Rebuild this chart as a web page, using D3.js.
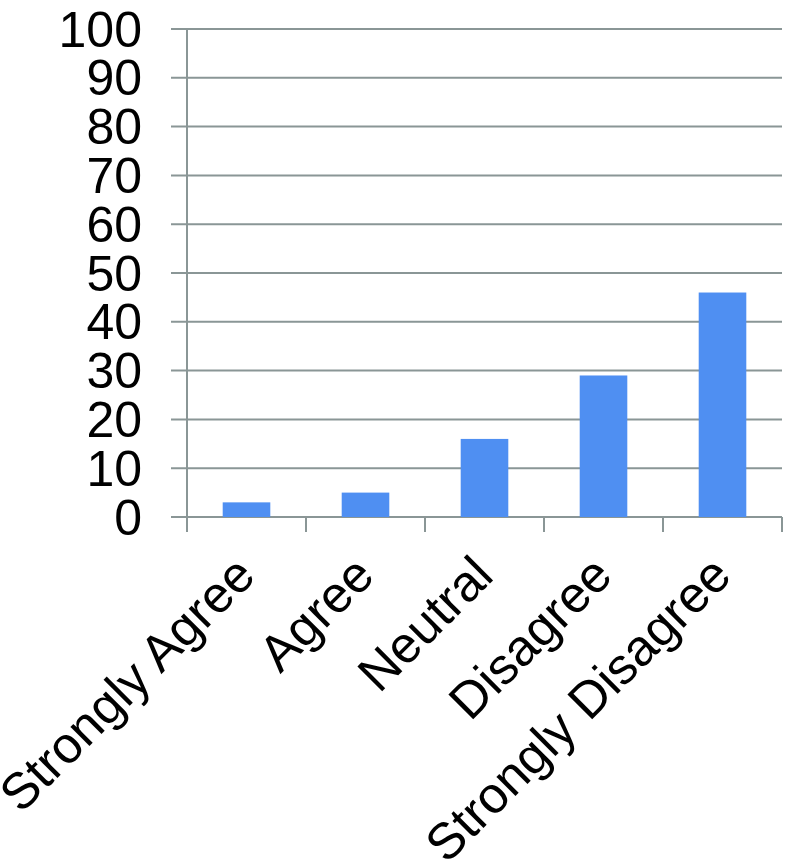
<!DOCTYPE html>
<html>
<head>
<meta charset="utf-8">
<script src="https://cdn.jsdelivr.net/npm/d3@7"></script>
<style>
  body { margin: 0; background: #fff; }
  text { font-family: "Liberation Sans", Arial, sans-serif; fill: #000; }
</style>
</head>
<body>
<svg id="chart" width="786" height="862"></svg>
<script>
// survey responses
var categories = ["Strongly Agree", "Agree", "Neutral", "Disagree", "Strongly Disagree"];
var values = [3, 5, 16, 29, 46];
var yTicks = [0, 10, 20, 30, 40, 50, 60, 70, 80, 90, 100];

var svg = d3.select("#chart");
var plotLeft = 187, plotRight = 782, plotTop = 29, plotBottom = 517;

var x = d3.scaleBand().domain(categories).range([plotLeft, plotRight]).padding(0);
var y = d3.scaleLinear().domain([0, 100]).range([plotBottom, plotTop]);

var gridColor = "#8a9696";

// gridlines (extend left as ticks)
svg.selectAll("line.grid")
  .data(yTicks)
  .enter().append("line")
  .attr("class", "grid")
  .attr("x1", plotLeft - 16)
  .attr("x2", plotRight)
  .attr("y1", function(d) { return y(d); })
  .attr("y2", function(d) { return y(d); })
  .attr("stroke", gridColor)
  .attr("stroke-width", 2);

// y axis line
svg.append("line")
  .attr("x1", plotLeft).attr("x2", plotLeft)
  .attr("y1", y(100)).attr("y2", plotBottom + 15)
  .attr("stroke", gridColor)
  .attr("stroke-width", 2);

// category boundary ticks
var bounds = categories.map(function(c) { return x(c) + x.bandwidth(); });
svg.selectAll("line.xtick")
  .data(bounds)
  .enter().append("line")
  .attr("class", "xtick")
  .attr("x1", function(d) { return d; })
  .attr("x2", function(d) { return d; })
  .attr("y1", plotBottom)
  .attr("y2", plotBottom + 15)
  .attr("stroke", gridColor)
  .attr("stroke-width", 2);

// bars
var barW = x.bandwidth() * 0.4;
svg.selectAll("rect.bar")
  .data(values)
  .enter().append("rect")
  .attr("class", "bar")
  .attr("x", function(d, i) { return x(categories[i]) + x.bandwidth() / 2 - barW / 2; })
  .attr("y", function(d) { return y(d); })
  .attr("width", barW)
  .attr("height", function(d) { return plotBottom - y(d); })
  .attr("fill", "#4f8ff2");

// y labels
svg.selectAll("text.ylab")
  .data(yTicks)
  .enter().append("text")
  .attr("class", "ylab")
  .attr("x", 142)
  .attr("y", function(d) { return y(d); })
  .attr("dy", "0.35em")
  .attr("text-anchor", "end")
  .attr("font-size", 50)
  .text(function(d) { return d; });

// x labels, rotated
svg.selectAll("text.xlab")
  .data(categories)
  .enter().append("text")
  .attr("class", "xlab")
  .attr("text-anchor", "end")
  .attr("font-size", 51)
  .attr("transform", function(d) {
    var cx = x(d) + x.bandwidth() / 2 + 11;
    return "translate(" + cx + ",578) rotate(-45)";
  })
  .text(function(d) { return d; });
</script>
</body>
</html>
